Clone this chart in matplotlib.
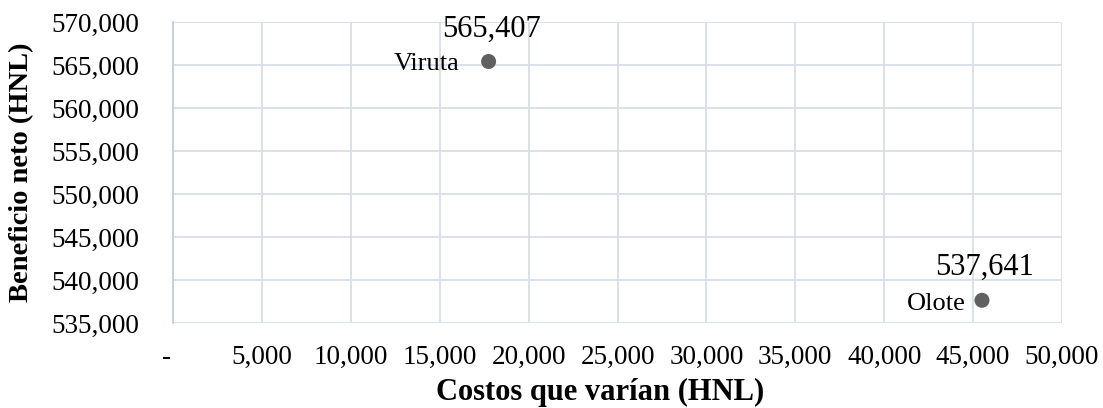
import matplotlib
matplotlib.use("Agg")
import matplotlib.pyplot as plt
from matplotlib.ticker import FuncFormatter, MultipleLocator

names = ["Viruta", "Olote"]
costs = [17750, 45500]
benefit = [565407, 537641]
name_offsets = [(-21, -1.5), (-12, -3)]

plt.rcParams['font.family'] = ['Liberation Serif', 'DejaVu Serif']

W, H = 1103, 408
fig = plt.figure(figsize=(W / 100, H / 100), dpi=100)
ax = fig.add_axes([173 / W, 1 - 323 / H, 889 / W, 301 / H])

ax.scatter(costs, benefit, s=117, color='#606060', zorder=3, edgecolors='none')

ax.set_xlim(0, 50000)
ax.set_ylim(535000, 570000)
ax.xaxis.set_major_locator(MultipleLocator(5000))
ax.yaxis.set_major_locator(MultipleLocator(5000))

def fmt(v, pos):
    if abs(v) < 1e-9:
        return "-  "
    return f"{v:,.0f}"

ax.xaxis.set_major_formatter(FuncFormatter(fmt))
ax.yaxis.set_major_formatter(FuncFormatter(lambda v, p: f"{v:,.0f}"))

ax.grid(True, color='#d9dde6', linewidth=1.3)
ax.set_axisbelow(True)
for s in ['top', 'right', 'bottom']:
    ax.spines[s].set_visible(False)
ax.spines['left'].set_color('#c5cddb')
ax.spines['left'].set_linewidth(1.3)
ax.tick_params(axis='both', length=0, labelsize=19.5)
ax.tick_params(axis='y', pad=24)
ax.tick_params(axis='x', pad=16)

for n, x, y, off in zip(names, costs, benefit, name_offsets):
    ax.annotate(n, (x, y), xytext=off, textcoords='offset points',
                ha='right', va='center', fontsize=19)
    ax.annotate(f"{y:,.0f}", (x, y), xytext=(2, 18), textcoords='offset points',
                ha='center', va='baseline', fontsize=22)

fig.text(600 / W, 1 - 392 / H, "Costos que varían (HNL)", fontsize=22,
         fontweight='bold', ha='center', va='center')
fig.text(22 / W, 1 - 172.5 / H, "Beneficio neto (HNL)", fontsize=20.5,
         fontweight='bold', ha='center', va='center', rotation=90)

fig.savefig("out.png", dpi=100)
